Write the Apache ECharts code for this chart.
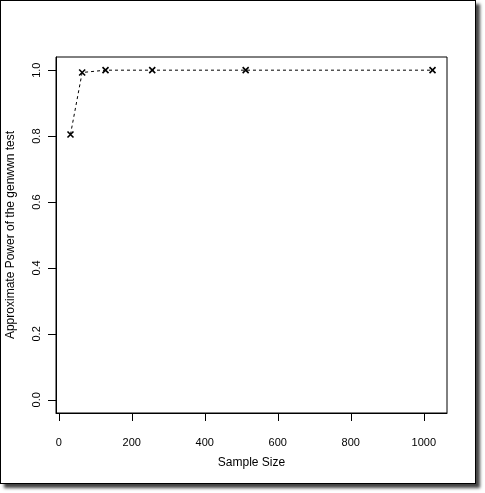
<!DOCTYPE html>
<html><head><meta charset="utf-8">
<script src="https://cdn.jsdelivr.net/npm/echarts@6/dist/echarts.min.js"></script>
<style>
html,body{margin:0;padding:0;background:#fff;width:485px;height:493px;overflow:hidden}
#frame{position:absolute;left:0;top:0;width:474px;height:482px;border:1px solid #000;box-shadow:4px 4px 3px #444;background:#fff;z-index:0}
#chart{position:absolute;left:0;top:0;width:485px;height:493px;z-index:1}
</style></head>
<body>
<div id="frame"></div>
<div id="chart"></div>
<script>
const sampleSizes = [32, 64, 128, 256, 512, 1024];
const power = [0.805, 0.993, 1.0, 1.0, 1.0, 1.0];
const xTicks = [0, 200, 400, 600, 800, 1000];
const yTicks = [0.0, 0.2, 0.4, 0.6, 0.8, 1.0];
const xTitle = 'Sample Size';
const yTitle = 'Approximate Power of the genwwn test';
const xMin = -7.68, xMax = 1063.68, yMin = -0.04, yMax = 1.04;

const font = 'Liberation Sans, Arial, Helvetica, sans-serif';
const tickLen = 8;
const chart = echarts.init(document.getElementById('chart'));
chart.setOption({
  animation: false,
  grid: {left: 56, top: 57, right: 38, bottom: 80, show: true, borderColor: '#000', borderWidth: 1,
    outerBoundsMode: 'none'},
  xAxis: {
    type: 'value', min: xMin, max: xMax, position: 'bottom',
    name: xTitle, nameLocation: 'middle', nameGap: 44,
    nameTextStyle: {color: '#000', fontSize: 12, fontFamily: font},
    axisLine: {show: true, onZero: false, lineStyle: {color: '#000', width: 1}},
    splitLine: {show: false},
    axisTick: {show: true, length: tickLen, lineStyle: {color: '#000', width: 1}, customValues: xTicks},
    axisLabel: {color: '#000', fontSize: 11, fontFamily: font, margin: 24, customValues: xTicks,
      formatter: v => String(v)}
  },
  yAxis: {
    type: 'value', min: yMin, max: yMax, position: 'left',
    name: yTitle, nameLocation: 'middle', nameGap: 39, nameRotate: 90,
    nameTextStyle: {color: '#000', fontSize: 12, fontFamily: font},
    axisLine: {show: true, onZero: false, lineStyle: {color: '#000', width: 1}},
    splitLine: {show: false},
    axisTick: {show: true, length: tickLen, lineStyle: {color: '#000', width: 1}, customValues: yTicks},
    axisLabel: {color: '#000', fontSize: 11, fontFamily: font, margin: 14, rotate: 90,
      customValues: yTicks, formatter: v => v.toFixed(1)}
  },
  series: [{
    type: 'line',
    data: sampleSizes.map((x, i) => [x, power[i]]),
    lineStyle: {color: '#000', width: 1, type: [3, 3]},
    symbol: 'path://M0,0L10,10M10,0L0,10',
    symbolSize: 6,
    showAllSymbol: true,
    itemStyle: {color: 'none', borderColor: '#000', borderWidth: 1.6}
  }]
});

// Tick marks placed through the chart's own scales
const tickEls = [];
xTicks.forEach(v => {
  const p = chart.convertToPixel({gridIndex: 0}, [v, yMin]);
  const x = Math.round(p[0]) + 0.5;
  tickEls.push({type: 'line', z: 100, silent: true,
    shape: {x1: x, y1: Math.round(p[1]), x2: x, y2: Math.round(p[1]) + tickLen},
    style: {stroke: '#000', lineWidth: 1}});
});
yTicks.forEach(v => {
  const p = chart.convertToPixel({gridIndex: 0}, [xMin, v]);
  const y = Math.round(p[1]) + 0.5;
  tickEls.push({type: 'line', z: 100, silent: true,
    shape: {x1: Math.round(p[0]), y1: y, x2: Math.round(p[0]) - tickLen, y2: y},
    style: {stroke: '#000', lineWidth: 1}});
});
chart.setOption({graphic: tickEls});
</script>
</body></html>
